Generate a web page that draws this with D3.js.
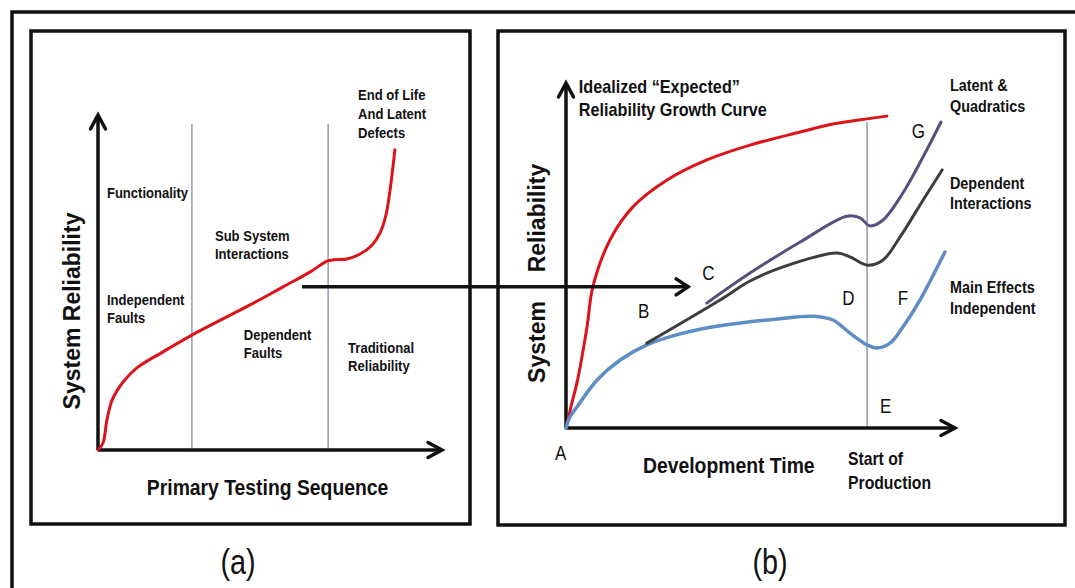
<!DOCTYPE html>
<html>
<head>
<meta charset="utf-8">
<script src="https://cdn.jsdelivr.net/npm/d3@7/dist/d3.min.js"></script>
<style>
  html, body { margin: 0; padding: 0; background: #fff; }
  svg { display: block; }
  text { font-family: "Liberation Sans", Arial, sans-serif; fill: #111; }
</style>
</head>
<body>
<svg id="chart" width="1075" height="588"></svg>
<script>
// ---------------- DATA (0-100 units) ----------------
// Panel (a): system reliability vs primary testing sequence
const testingCurve = [
  [0,0],[1.45,2.1],[2.6,9.0],[4.1,14.9],[7.3,20.3],[11.3,24.5],[18.9,29.3],
  [27.3,34.3],[44.2,43.3],[53.8,48.7],[61.6,53.1],[66.6,56.4],[68.6,56.8],
  [72.4,57.0],[76.2,58.5],[79.7,61.2],[82.0,64.8],[83.7,70.1],[84.9,77.6],[86.3,89.6]
];
const testingPhases = [27.3, 66.9];          // phase divider positions
const testingPhaseTop = 97.3;

// Panel (b): reliability growth vs development time
const idealCurve = [
  [0,0],[0.5,2.3],[1.5,7.2],[2.8,13.0],[5.4,29.3],[6.9,40.9],[11.3,54.5],[17.2,64.1],
  [26.0,71.9],[36.2,77.7],[47.3,82.0],[60.2,85.8],[68.6,88.1],[77.4,89.6],[82.5,90.4]
];
const mainEffectsCurve = [
  [0,0],[1.0,3.2],[2.8,6.1],[8.0,13.9],[13.9,19.7],[20.8,24.1],[30.1,27.5],[40.0,29.7],
  [55.0,31.7],[63.5,32.4],[68.6,31.3],[73.0,27.5],[77.4,24.1],[79.9,23.2],[83.3,24.6],
  [86.6,29.3],[91.0,37.1],[97.4,51.0]
];
const dependentCurve = [
  [20.8,24.6],[39.6,37.1],[47.3,42.6],[55.8,46.7],[69.7,50.7],[73.0,49.6],[77.6,47.2],
  [81.5,48.7],[85.9,55.4],[91.8,66.1],[96.7,74.8]
];
const latentCurve = [
  [36.2,36.2],[47.3,44.9],[60.2,53.9],[72.2,61.4],[75.6,60.9],[78.1,58.6],[81.5,60.3],
  [86.6,68.1],[91.8,78.6],[96.4,88.7]
];
const startOfProduction = 77.4;
const startOfProductionTop = 88.7;
// connector arrow: from panel (a) point to panel (b) x
const connectorFrom = [59.3, 48.7];
const connectorToX = 31.4;

// ---------------- LAYOUT ----------------
const svg = d3.select("#chart");
const W = 1075, H = 588;
const aX = d3.scaleLinear().domain([0,100]).range([98,442]);
const aY = d3.scaleLinear().domain([0,100]).range([450,115]);
const bX = d3.scaleLinear().domain([0,100]).range([566,955]);
const bY = d3.scaleLinear().domain([0,100]).range([428,83]);

const colors = { red:"#dc1419", blue:"#5e8cc4", gray:"#3d3d3d", purple:"#5a4e80", guide:"#8e9cb2", ink:"#111" };

// outer frame (top & left visible)
svg.append("path").attr("d", `M12,${H+10} V12 H${W+10}`)
  .attr("fill","none").attr("stroke",colors.ink).attr("stroke-width",3.5);

// panel boxes
[[31,31,439,493],[498,31,567,494]].forEach(b => {
  svg.append("rect").attr("x",b[0]).attr("y",b[1]).attr("width",b[2]).attr("height",b[3])
    .attr("fill","none").attr("stroke",colors.ink).attr("stroke-width",3.5);
});

function chevron(g, tip, dir, len, half) {
  let p;
  if (dir === "up") p = [[tip[0]-half, tip[1]+len],[tip[0],tip[1]],[tip[0]+half, tip[1]+len]];
  else p = [[tip[0]-len, tip[1]-half],[tip[0],tip[1]],[tip[0]-len, tip[1]+half]];
  g.append("path").attr("d", d3.line()(p)).attr("fill","none")
    .attr("stroke",colors.ink).attr("stroke-width",3.5).attr("stroke-linecap","round").attr("stroke-linejoin","miter");
}

function axes(x, y) {
  const g = svg.append("g");
  g.append("line").attr("x1",x(0)).attr("y1",y(0)).attr("x2",x(0)).attr("y2",y(100))
    .attr("stroke",colors.ink).attr("stroke-width",3.5);
  g.append("line").attr("x1",x(0)).attr("y1",y(0)).attr("x2",x(100)).attr("y2",y(0))
    .attr("stroke",colors.ink).attr("stroke-width",3.5);
  chevron(g, [x(0), y(100)], "up", 14, 7.5);
  chevron(g, [x(100), y(0)], "right", 14, 7.5);
}

// guides
testingPhases.forEach(v => {
  svg.append("line").attr("x1",aX(v)).attr("x2",aX(v)).attr("y1",aY(0)).attr("y2",aY(testingPhaseTop))
    .attr("stroke",colors.guide).attr("stroke-width",1.5);
});
svg.append("line").attr("x1",bX(startOfProduction)).attr("x2",bX(startOfProduction))
  .attr("y1",bY(0)).attr("y2",bY(startOfProductionTop))
  .attr("stroke",colors.guide).attr("stroke-width",1.5);

axes(aX, aY);
axes(bX, bY);

// curves
function curve(data, x, y, color, w) {
  const line = d3.line().x(d => x(d[0])).y(d => y(d[1])).curve(d3.curveCatmullRom.alpha(0.5));
  svg.append("path").attr("d", line(data)).attr("fill","none")
    .attr("stroke",color).attr("stroke-width",w).attr("stroke-linecap","round").attr("stroke-linejoin","round");
}
curve(testingCurve, aX, aY, colors.red, 3);
curve(idealCurve, bX, bY, colors.red, 3);
curve(mainEffectsCurve, bX, bY, colors.blue, 3.5);
curve(dependentCurve, bX, bY, colors.gray, 3);
curve(latentCurve, bX, bY, colors.purple, 3);

// connector arrow
{
  const g = svg.append("g");
  const yy = aY(connectorFrom[1]);
  g.append("line").attr("x1",aX(connectorFrom[0])).attr("y1",yy).attr("x2",bX(connectorToX)).attr("y2",yy)
    .attr("stroke",colors.ink).attr("stroke-width",3.5);
  chevron(g, [bX(connectorToX), yy], "right", 12, 8);
}

// ---------------- TEXT ----------------
const SQ = 0.9; // horizontal squeeze of the lettering
function label(x, y, lines, size, weight, opts = {}) {
  const lh = opts.lh || size * 1.22;
  const t = svg.append("text")
    .attr("transform", `translate(${x},${y}) scale(${opts.sq || SQ},1)`)
    .attr("font-size", size).attr("font-weight", weight)
    .attr("text-anchor", opts.anchor || "start")
    .attr("dominant-baseline","central");
  lines.forEach((s, i) => t.append("tspan").attr("x",0).attr("y", i*lh).text(s));
  return t;
}

// panel (a) labels
label(aX(2.6), aY(76.7), ["Functionality"], 14.5, "bold");
label(aX(2.6), aY(44.8), ["Independent","Faults"], 14.5, "bold", {lh:18});
label(aX(34.0), aY(63.9), ["Sub System","Interactions"], 14.5, "bold", {lh:18});
label(aX(42.4), aY(34.3), ["Dependent","Faults"], 14.5, "bold", {lh:18});
label(aX(72.7), aY(30.4), ["Traditional","Reliability"], 14.5, "bold", {lh:18});
label(aX(75.6), aY(106.0), ["End of Life","And Latent","Defects"], 14.5, "bold", {lh:19});
label(aX(14.2), aY(-11.0), ["Primary Testing Sequence"], 21.5, "bold");

// panel (b) labels
label(bX(3.3), bY(98.8), ["Idealized \u201CExpected\u201D","Reliability Growth Curve"], 18, "bold", {lh:23});
label(bX(98.7), bY(99.4), ["Latent &","Quadratics"], 16, "bold", {lh:21});
label(bX(98.7), bY(71.0), ["Dependent","Interactions"], 16, "bold", {lh:20});
label(bX(98.7), bY(40.9), ["Main Effects","Independent"], 16, "bold", {lh:21});
label(bX(72.5), bY(-9.0), ["Start of","Production"], 17.5, "bold", {lh:24});
label(bX(19.8), bY(-10.7), ["Development Time"], 21.5, "bold");

// point letters
const pointLetters = ["A","B","C","D","E","F","G"];
const letterPos = [[-2.8,-7.2],[18.5,34.2],[35.0,45.2],[71.0,37.7],[80.7,6.4],[85.3,37.7],[88.9,86.1]];
pointLetters.forEach((s,i) => label(bX(letterPos[i][0]), bY(letterPos[i][1]), [s], 20, "normal", {sq:0.85}));

// rotated axis titles
function vtitle(cx, cy, s) {
  svg.append("text").attr("transform", `translate(${cx},${cy}) rotate(-90)`)
    .attr("text-anchor","middle").attr("dominant-baseline","central")
    .attr("font-size",23).attr("font-weight","bold").text(s);
}
vtitle(72, 311, "System Reliability");
vtitle(537, 218, "Reliability");
vtitle(537, 342, "System");

// captions
label(238, 561, ["(a)"], 36, "normal", {anchor:"middle", sq:0.8});
label(770, 561, ["(b)"], 36, "normal", {anchor:"middle", sq:0.8});
</script>
</body>
</html>
